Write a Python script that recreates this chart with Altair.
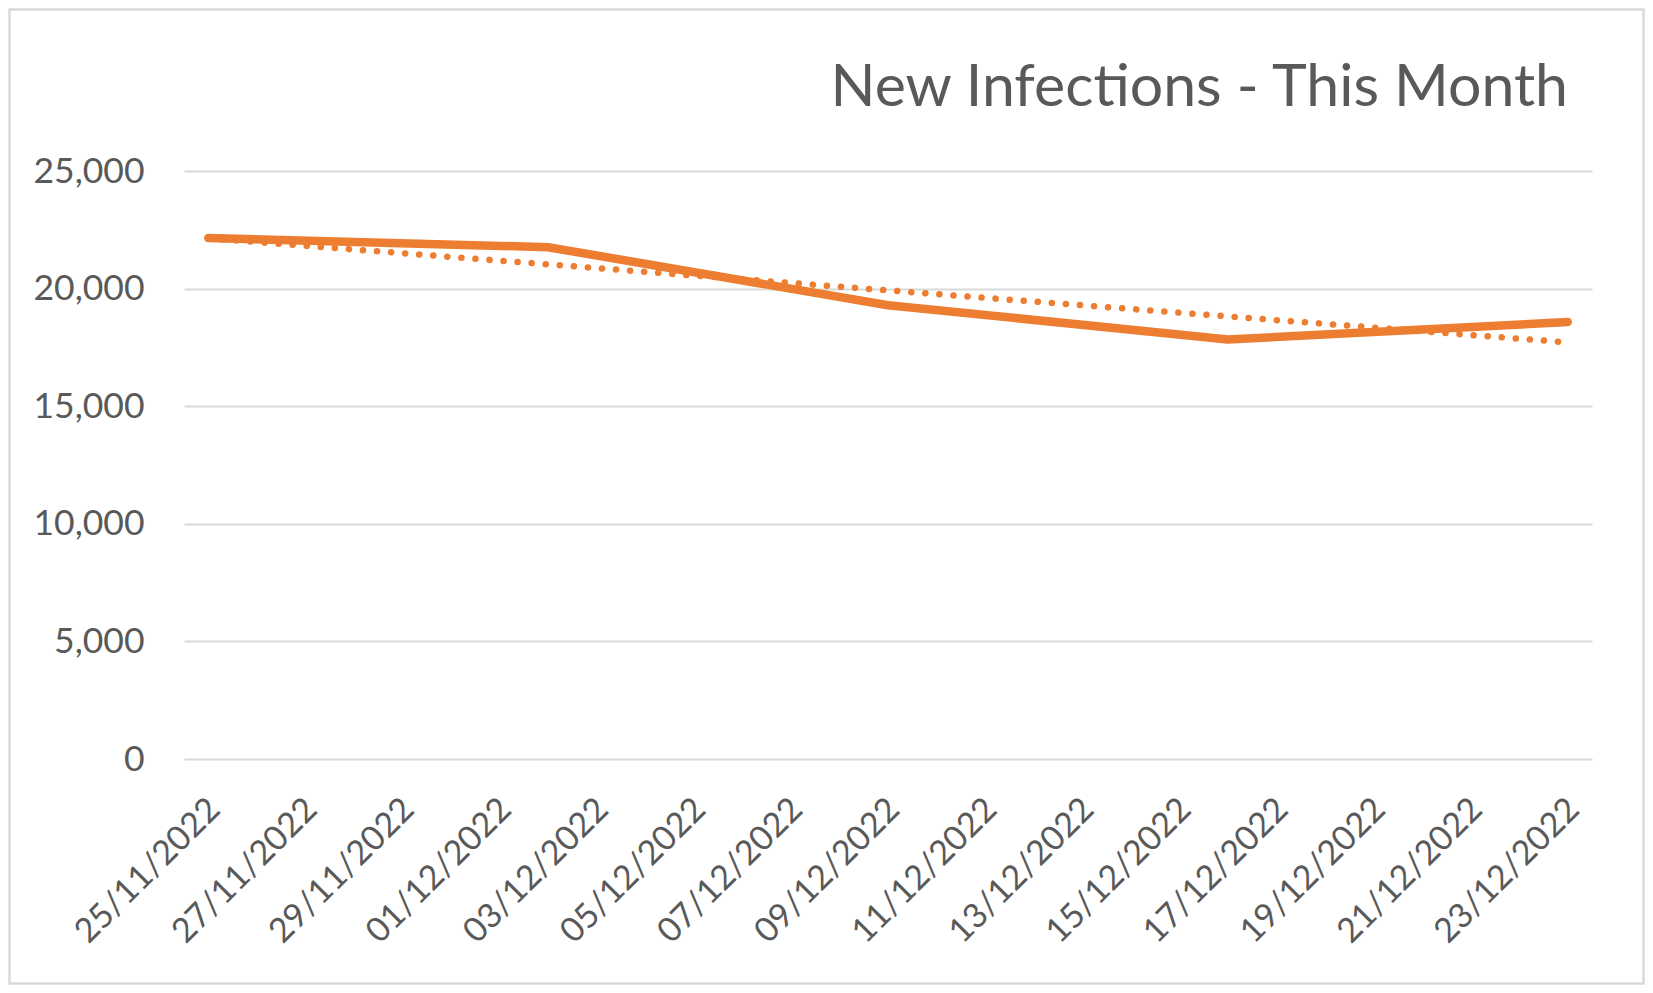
import json
import altair as alt
import pandas as pd

# ---- data ----
dates = ["25/11/2022", "02/12/2022", "09/12/2022", "16/12/2022", "23/12/2022"]
new_infections = [22150, 21760, 19290, 17840, 18580]
tick_labels = ["25/11/2022", "27/11/2022", "29/11/2022", "01/12/2022", "03/12/2022",
               "05/12/2022", "07/12/2022", "09/12/2022", "11/12/2022", "13/12/2022",
               "15/12/2022", "17/12/2022", "19/12/2022", "21/12/2022", "23/12/2022"]
y_ticks = [0, 5000, 10000, 15000, 20000, 25000]
title_text = "New Infections - This Month"

d = pd.to_datetime(dates, dayfirst=True)
df = pd.DataFrame({"day": (d - d[0]).days, "value": new_infections})
tick_days = list(range(0, 2 * len(tick_labels), 2))

FONT = "Lato"
GREY = "#595959"
ORANGE = "#ED7D31"
W, H = 1408, 588
PAD = {"left": 176, "top": 163, "right": 53, "bottom": 226}

x_enc = alt.X(
    "day:Q",
    scale=alt.Scale(domain=[-0.5, 28.5], nice=False, zero=False),
    axis=alt.Axis(
        values=tick_days,
        labelExpr=json.dumps(tick_labels) + "[round(datum.value / 2)]",
        labelAngle=-45, labelAlign="right", labelBaseline="middle",
        labelPadding=45, labelOffset=6, labelOverlap=False, labelFlush=False,
        labelBound=False, labelLimit=0,
        ticks=False, domain=False, grid=False,
        labelFont=FONT, labelFontSize=34, labelColor=GREY, title=None,
    ),
)
y_enc = alt.Y(
    "value:Q",
    scale=alt.Scale(domain=[0, 25000], nice=False),
    axis=alt.Axis(
        values=y_ticks, format=",.0f", ticks=False, domain=False,
        labelPadding=40, labelFont=FONT, labelFontSize=35.5, labelColor=GREY,
        gridColor="#D9D9D9", gridWidth=2, title=None,
    ),
)

base = alt.Chart(df)

line = base.mark_line(color=ORANGE, strokeWidth=8.5, strokeCap="round",
                      strokeJoin="round").encode(x=x_enc, y=y_enc)

trend = base.transform_regression("day", "value", method="linear").mark_line(
    color=ORANGE, strokeWidth=6.5, strokeCap="round", strokeDash=[0.1, 14]
).encode(x=x_enc, y=y_enc)

title = alt.Chart(pd.DataFrame({"t": [title_text]})).mark_text(
    font=FONT, fontSize=59, color=GREY, align="right", baseline="alphabetic"
).encode(text="t:N", x=alt.value(1384), y=alt.value(-65))

frame = alt.Chart(pd.DataFrame({"f": [0]})).mark_rect(
    fillOpacity=0, stroke="#D9D9D9", strokeWidth=2.5
).encode(
    x=alt.value(-PAD["left"] + 1.5), x2=alt.value(W + PAD["right"] - 1.5),
    y=alt.value(-PAD["top"] + 1.5), y2=alt.value(H + PAD["bottom"] - 1.5),
)

chart = alt.layer(frame, line, trend, title).properties(
    width=W, height=H, padding=PAD,
    autosize=alt.AutoSizeParams(type="none"),
    background="white",
).configure_view(strokeWidth=0)

chart.save("out.html", embed_options={"renderer": "svg", "actions": False})
